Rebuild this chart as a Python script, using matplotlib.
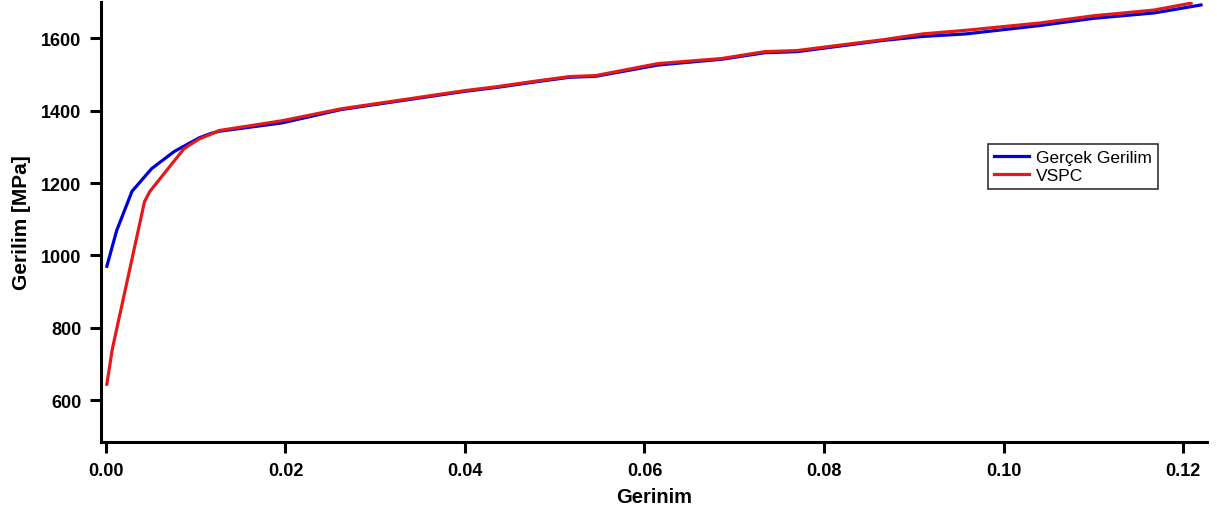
import matplotlib
matplotlib.use('Agg')
import matplotlib.pyplot as plt

plt.rcParams['font.family'] = ['Liberation Sans', 'DejaVu Sans']

# Gerçek Gerilim (true stress) curve
gercek_x = [0.0001, 0.0012, 0.0029, 0.0051, 0.0076, 0.0104, 0.0117, 0.0126, 0.0196,
            0.0262, 0.0325, 0.0399, 0.0435, 0.0480, 0.0516, 0.0546, 0.0615, 0.0686,
            0.0734, 0.0770, 0.0866, 0.0910, 0.0958, 0.1040, 0.1100, 0.1168, 0.1220]
gercek_y = [970, 1069, 1177, 1240, 1287, 1325, 1337, 1343, 1366,
            1403, 1426, 1453, 1464, 1480, 1492, 1495, 1526, 1542,
            1560, 1563, 1594, 1605, 1612, 1635, 1655, 1670, 1692]

# VSPC curve
vspc_x = [0.0001, 0.0007, 0.0043, 0.0049, 0.0087, 0.0104, 0.0117, 0.0126, 0.0196,
          0.0262, 0.0325, 0.0399, 0.0435, 0.0480, 0.0516, 0.0546, 0.0615, 0.0686,
          0.0734, 0.0770, 0.0866, 0.0910, 0.0958, 0.1040, 0.1100, 0.1168, 0.1209]
vspc_y = [644, 740, 1149, 1177, 1295, 1322, 1335, 1345, 1372,
          1405, 1428, 1455, 1466, 1482, 1494, 1497, 1530, 1544,
          1563, 1566, 1596, 1612, 1622, 1642, 1662, 1678, 1697]

xticks = [0.00, 0.02, 0.04, 0.06, 0.08, 0.10, 0.12]
yticks = [600, 800, 1000, 1200, 1400, 1600]

fig = plt.figure(figsize=(12.17, 5.10), dpi=100)
ax = fig.add_axes([0.083, 0.131, 0.909, 0.863])

ax.plot(gercek_x, gercek_y, color='#0000d8', lw=2.3, label='Gerçek Gerilim')
ax.plot(vspc_x, vspc_y, color='#e41a1a', lw=2.3, label='VSPC')

ax.set_xlim(-0.00055, 0.1227)
ax.set_ylim(484, 1700)
ax.set_xticks(xticks)
ax.set_xticklabels(['%.2f' % t for t in xticks])
ax.set_yticks(yticks)

for s in ['top', 'right']:
    ax.spines[s].set_visible(False)
for s in ['left', 'bottom']:
    ax.spines[s].set_linewidth(2.2)

ax.tick_params(axis='both', direction='out', length=8, width=2.2, labelsize=13, pad=6)
for lbl in ax.get_xticklabels() + ax.get_yticklabels():
    lbl.set_fontweight('bold')

ax.set_xlabel('Gerinim', fontsize=14.5, fontweight='bold', labelpad=6)
ax.set_ylabel('Gerilim [MPa]', fontsize=15, fontweight='bold', labelpad=7)

leg = ax.legend(loc='upper left', bbox_to_anchor=(988 / 1217, 1 - 145 / 510),
                bbox_transform=fig.transFigure, fontsize=12.5, frameon=True,
                fancybox=False, edgecolor='black', handlelength=2.0,
                handletextpad=0.4, borderpad=0.35, labelspacing=0.15,
                borderaxespad=0)
leg.get_frame().set_linewidth(1.2)

plt.savefig('out.png', dpi=100)
plt.close()
